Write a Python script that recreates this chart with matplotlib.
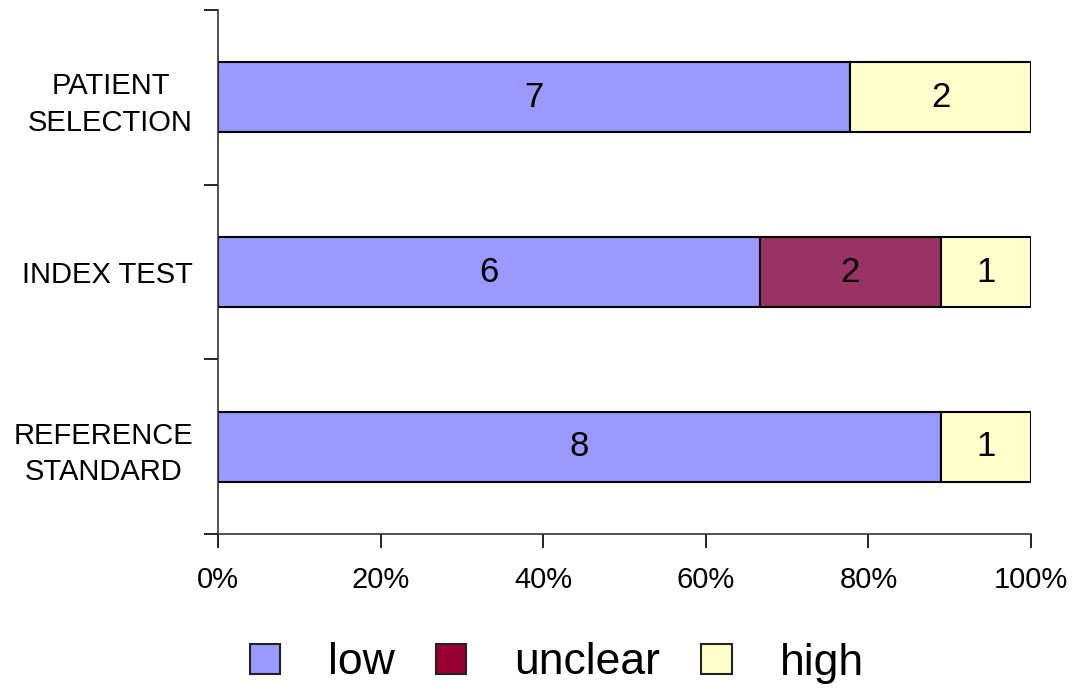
import matplotlib
matplotlib.use("Agg")
import matplotlib.pyplot as plt
import numpy as np
from matplotlib.patches import Patch

plt.rcParams['font.family'] = ['Liberation Sans', 'DejaVu Sans']

# risk of bias counts per domain
domains = ["PATIENT\nSELECTION", "INDEX TEST", "REFERENCE\nSTANDARD"]
low = [7, 6, 8]
unclear = [0, 2, 0]
high = [2, 1, 1]

series = [("low", low, "#9999ff", "#9999ff"),
          ("unclear", unclear, "#993366", "#990033"),
          ("high", high, "#ffffcc", "#ffffcc")]

totals = np.array(low) + np.array(unclear) + np.array(high)

fig = plt.figure(figsize=(10.81, 6.92), dpi=100)
ax = fig.add_axes([218 / 1081, 1 - 534 / 692, (1031 - 218) / 1081, (534 - 10) / 692])

y = np.arange(len(domains))
left = np.zeros(len(domains))
for name, counts, color, _ in series:
    counts = np.array(counts)
    pct = counts / totals * 100
    ax.barh(y, pct, left=left, height=0.4, color=color, edgecolor="black", linewidth=1.5)
    for yi, c, l, p in zip(y, counts, left, pct):
        if c > 0:
            ax.text(l + p / 2, yi, str(c), ha="center", va="center", fontsize=25)
    left = left + pct

ax.set_xlim(0, 100)
ax.set_ylim(2.5, -0.5)
ax.set_xticks(np.arange(0, 101, 20))
ax.set_xticklabels([f"{v}%" for v in range(0, 101, 20)], fontsize=21)

# domain names between the boundary ticks
ax.set_yticks(y)
ax.set_yticklabels(domains, fontsize=21, multialignment="center", linespacing=1.38)
ax.set_yticks(np.arange(-0.5, 3, 1), minor=True)
ax.tick_params(axis="y", which="major", length=0, pad=18)
ax.tick_params(axis="y", which="minor", length=10, width=1.2)
ax.tick_params(axis="x", length=10, width=1.2, pad=13)

for side in ["top", "right"]:
    ax.spines[side].set_visible(False)
for side in ["left", "bottom"]:
    ax.spines[side].set_linewidth(1.2)
    ax.spines[side].set_color("#333333")

handles = [Patch(facecolor=lc, edgecolor="#222222", linewidth=1.5, label=n) for n, _, _, lc in series]
fig.legend(handles=handles, loc="center", bbox_to_anchor=(0.515, 1 - 663 / 692), ncol=3,
           frameon=False, fontsize=32, handlelength=0.68, handleheight=0.68,
           handletextpad=1.08, columnspacing=0.93)

fig.savefig("out.png", dpi=100)
